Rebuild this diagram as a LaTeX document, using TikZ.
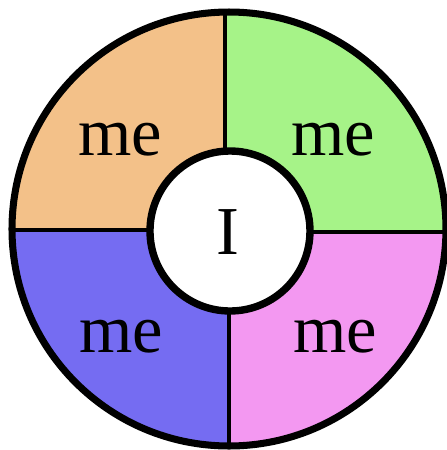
\documentclass[tikz,border=0pt]{standalone}
\usepackage{fontspec}
\setmainfont{Liberation Serif}
\definecolor{kwartOranje}{RGB}{243,193,137}
\definecolor{kwartGroen}{RGB}{166,243,136}
\definecolor{kwartBlauw}{RGB}{117,108,242}
\definecolor{kwartRoze}{RGB}{243,152,241}

\begin{document}
\begin{tikzpicture}[x=0.01cm, y=0.01cm,
    woord/.style={inner sep=0pt, font=\fontsize{19.5}{20}\selectfont}]
    \useasboundingbox (0,0) rectangle (447,450);

    % Kwadranten vullen
    \begin{scope}
        \clip (229,221) circle (217);
        \fill[kwartOranje] (0,220) rectangle (225,450);
        \fill[kwartGroen] (225,218) rectangle (447,450);
        \fill[kwartBlauw] (0,0) rectangle (229,220);
        \fill[kwartRoze] (229,0) rectangle (447,218);
    \end{scope}

    % Scheidingslijnen
    \draw[line width=0.9pt] (225,221) -- (225,440);
    \draw[line width=0.9pt] (229,221) -- (229,2);
    \draw[line width=0.9pt] (229,220) -- (10,220);
    \draw[line width=0.9pt] (229,218) -- (447,218);

    % Binnencirkel en buitencirkel
    \draw[line width=2.1pt, fill=white] (230,219) circle (80);
    \draw[line width=2pt] (229,221) circle (217);

    % Labels
    \node[woord] (ik) at (228,218) {I};
    \node[woord] (meLB) at (120,310) {me};
    \node[woord] (meRB) at (333,310) {me};
    \node[woord] (meLO) at (121,113) {me};
    \node[woord] (meRO) at (335,113) {me};
\end{tikzpicture}
\end{document}
